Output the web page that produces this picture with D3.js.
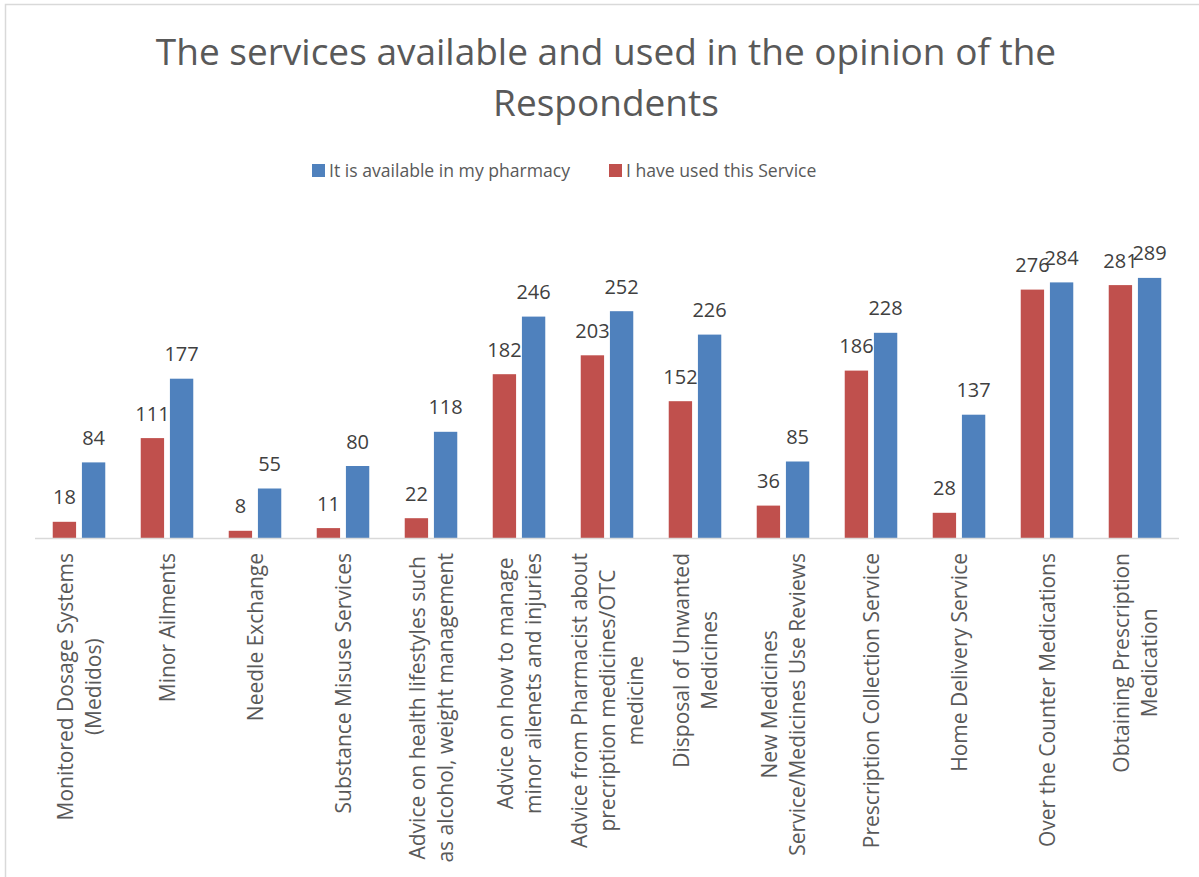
<!DOCTYPE html>
<html>
<head>
<meta charset="utf-8">
<script src="https://cdn.jsdelivr.net/npm/d3@7/dist/d3.min.js"></script>
<style>
  html, body { margin: 0; padding: 0; background: #ffffff; }
  svg { display: block; }
  text { font-family: "Open Sans", "Liberation Sans", sans-serif; }
</style>
</head>
<body>
<svg id="chart" width="1199" height="877"></svg>
<script>
const titleLines = ["The services available and used in the opinion of the", "Respondents"];
const categories = [
  ["Monitored Dosage Systems", "(Medidos)"],
  ["Minor Ailments"],
  ["Needle Exchange"],
  ["Substance Misuse Services"],
  ["Advice on health  lifestyles such", "as alcohol, weight management"],
  ["Advice on how to manage", "minor ailenets and injuries"],
  ["Advice from Pharmacist about", "precription medicines/OTC", "medicine"],
  ["Disposal of Unwanted", "Medicines"],
  ["New Medicines", "Service/Medicines Use Reviews"],
  ["Prescription Collection Service"],
  ["Home Delivery Service"],
  ["Over the Counter Medications"],
  ["Obtaining Prescription", "Medication"]
];
const seriesNames = ["I have used this Service", "It is available in my pharmacy"];
const usedValues = [18, 111, 8, 11, 22, 182, 203, 152, 36, 186, 28, 276, 281];
const availableValues = [84, 177, 55, 80, 118, 246, 252, 226, 85, 228, 137, 284, 289];
const legendOrder = ["It is available in my pharmacy", "I have used this Service"];
const colors = {"I have used this Service": "#C0504D", "It is available in my pharmacy": "#4F81BD"};

const svg = d3.select("#chart");

// chart border
svg.append("rect")
  .attr("x", 5.5).attr("y", 4.5)
  .attr("width", 1200).attr("height", 900)
  .attr("fill", "#ffffff").attr("stroke", "#d9d9d9").attr("stroke-width", 1.5);

// title
svg.append("text")
  .attr("text-anchor", "middle")
  .attr("fill", "#595959")
  .style("font-size", "37px")
  .selectAll("tspan").data(titleLines).join("tspan")
  .attr("x", 606)
  .attr("y", (d, i) => 65 + i * 51)
  .text(d => d);

// legend
const legendItems = [
  {name: legendOrder[0], x: 312},
  {name: legendOrder[1], x: 609}
];
const lg = svg.append("g").selectAll("g").data(legendItems).join("g")
  .attr("transform", d => `translate(${d.x},164)`);
lg.append("rect").attr("width", 13).attr("height", 13).attr("fill", d => colors[d.name]);
lg.append("text").attr("x", 17).attr("y", 13)
  .attr("fill", "#595959").style("font-size", "17.6px").text(d => d.name);

// scales
const catKeys = categories.map(c => c.join(" "));
const x0 = d3.scaleBand().domain(catKeys).range([35, 1179]).paddingInner(0.403).paddingOuter(0.2015);
const x1 = d3.scaleBand().domain(seriesNames).range([0, x0.bandwidth()]).paddingInner(0.2).paddingOuter(0);
const y = d3.scaleLinear().domain([0, 300]).range([538, 538 - 270]);

const data = catKeys.map((k, i) => ({
  key: k,
  values: [
    {series: seriesNames[0], value: usedValues[i]},
    {series: seriesNames[1], value: availableValues[i]}
  ]
}));

const groups = svg.append("g").selectAll("g").data(data).join("g")
  .attr("transform", d => `translate(${x0(d.key)},0)`);

groups.selectAll("rect").data(d => d.values).join("rect")
  .attr("x", d => x1(d.series))
  .attr("y", d => y(d.value))
  .attr("width", x1.bandwidth())
  .attr("height", d => y(0) - y(d.value))
  .attr("fill", d => colors[d.series]);

groups.selectAll("text.val").data(d => d.values).join("text")
  .attr("class", "val")
  .attr("x", d => x1(d.series) + x1.bandwidth() / 2)
  .attr("y", d => y(d.value) - 17.5)
  .attr("text-anchor", "middle")
  .attr("fill", "#404040")
  .style("font-size", "20px")
  .text(d => d.value);

// x axis line
svg.append("line")
  .attr("x1", 35).attr("x2", 1179)
  .attr("y1", y(0) + 0.5).attr("y2", y(0) + 0.5)
  .attr("stroke", "#d9d9d9").attr("stroke-width", 1.5);

// category labels (rotated, wrapped lines centred on each other, block top-aligned)
const labelTop = 553;
const lineGap = 28;
const lab = svg.append("g").selectAll("g").data(categories).join("g")
  .attr("transform", (d, i) => `translate(${x0(catKeys[i]) + x0.bandwidth() / 2},${labelTop}) rotate(-90)`);
lab.each(function(lines) {
  const g = d3.select(this);
  const texts = g.selectAll("text").data(lines).join("text")
    .attr("text-anchor", "middle")
    .attr("dominant-baseline", "central")
    .attr("fill", "#595959")
    .style("font-size", "21px")
    .attr("y", (d, i) => (i - (lines.length - 1) / 2) * lineGap)
    .text(d => d);
  let maxLen = 0;
  texts.each(function() { maxLen = Math.max(maxLen, this.getComputedTextLength()); });
  texts.attr("x", -maxLen / 2);
});
</script>
</body>
</html>
